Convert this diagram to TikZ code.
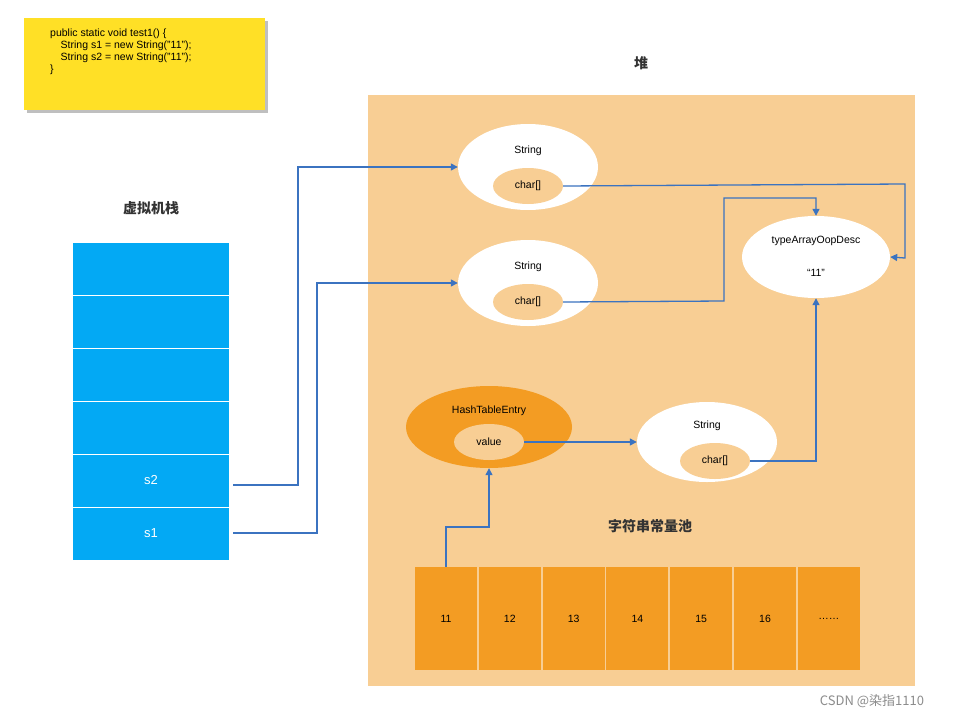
\documentclass[tikz,border=0pt]{standalone}
\usepackage{fontspec}
\setmainfont{Liberation Sans}
\newfontfamily\cjk{Noto Sans CJK SC}
\usetikzlibrary{arrows.meta,shapes.geometric}
\definecolor{heap}{HTML}{F8CE94}
\definecolor{stk}{HTML}{03A9F4}
\definecolor{org}{HTML}{F39C23}
\definecolor{ln}{HTML}{3B73C0}
\definecolor{note}{HTML}{FFE026}
\begin{document}
\begin{tikzpicture}[x=1pt,y=-1pt,
  txt/.style={font=\fontsize{10.5}{12}\selectfont},
  big/.style={ellipse,minimum width=140pt,minimum height=86pt,fill=white,draw=none},
  small/.style={ellipse,minimum width=70pt,minimum height=36pt,fill=heap,draw=none,font=\fontsize{10.5}{12}\selectfont},
  cell/.style={fill=stk,draw=white,line width=1pt,minimum width=157pt,minimum height=53pt,text=white,font=\fontsize{13}{15}\selectfont},
  pc/.style={fill=org,draw=none,minimum width=62pt,minimum height=103pt,font=\fontsize{10.5}{12}\selectfont},
  ar/.style={draw=ln,line width=1.3pt,-{Triangle[length=7pt,width=7pt]}},
  ttl/.style={font=\cjk\bfseries\fontsize{14}{16}\selectfont,text=black!80}]
\useasboundingbox (0,0) rectangle (968,720);
\fill[white] (0,0) rectangle (968,720);
% note
\fill[black!25] (27,21) rectangle (268,113);
\fill[note] (24,18) rectangle (265,110);
\node[txt,anchor=north west,align=left,inner sep=0] (code) at (50,29)
{public static void test1() \{\\
\quad String s1 = new String("11");\\
\quad String s2 = new String("11");\\
\}};
% heap
\fill[heap] (368,95) rectangle (915,686);
\node[ttl] (heapt) at (641,63) {堆};
\node[ttl] (vmt) at (151,208) {虚拟机栈};
% stack
\foreach \i/\t in {0/,1/,2/,3/,4/s2,5/s1} {
  \node[cell] (st\i) at (151,268.5+53*\i) {\t};
}
% string objects
\node[big] (S1) at (528,167) {};
\node[txt] (S1t) at (528,151) {String};
\node[small] (c1) at (528,186) {char[]};
\node[big] (S2) at (528,283) {};
\node[txt] (S2t) at (528,267) {String};
\node[small] (c2) at (528,302) {char[]};
\node[big,minimum width=148pt,minimum height=82pt] (T) at (816,257) {};
\node[txt] (Tt) at (816,241) {typeArrayOopDesc};
\node[txt] (Tv) at (816,273) {“11”};
\node[big,fill=org,minimum width=166pt,minimum height=82pt] (H) at (489,427) {};
\node[txt] (Ht) at (489,411) {HashTableEntry};
\node[small] (hv) at (489,442) {value};
\node[big,minimum height=80pt] (S3) at (707,442) {};
\node[txt] (S3t) at (707,426) {String};
\node[small] (c3) at (715,461) {char[]};
\node[ttl] (poolt) at (650,526) {字符串常量池};
\foreach \i/\t in {0/11,1/12,2/13,3/14,4/15,5/16,6/……} {
  \node[pc] (p\i) at (446+63.8*\i,618.5) {\t};
}
% arrows
\draw[ar] (233,485) -- (298,485) -- (298,167) -- (S1.west);
\draw[ar] (233,533) -- (317,533) -- (317,283) -- (S2.west);
\draw[ar] (c1.east) -- (905,184) -- (905,258) -- (T.east);
\draw[ar] (c2.east) -- (724,301) -- (724,198) -- (816,198) -- (T.north);
\draw[ar] (c3.east) -- (816,461) -- (T.south);
\draw[ar] (hv.east) -- (S3.west);
\draw[ar] (p0.north) -- (446,527) -- (489,527) -- (H.south);
\node[font=\cjk\fontsize{13}{15}\selectfont,text=black!45] (wm) at (872,701) {CSDN @染指1110};
\end{tikzpicture}
\end{document}
